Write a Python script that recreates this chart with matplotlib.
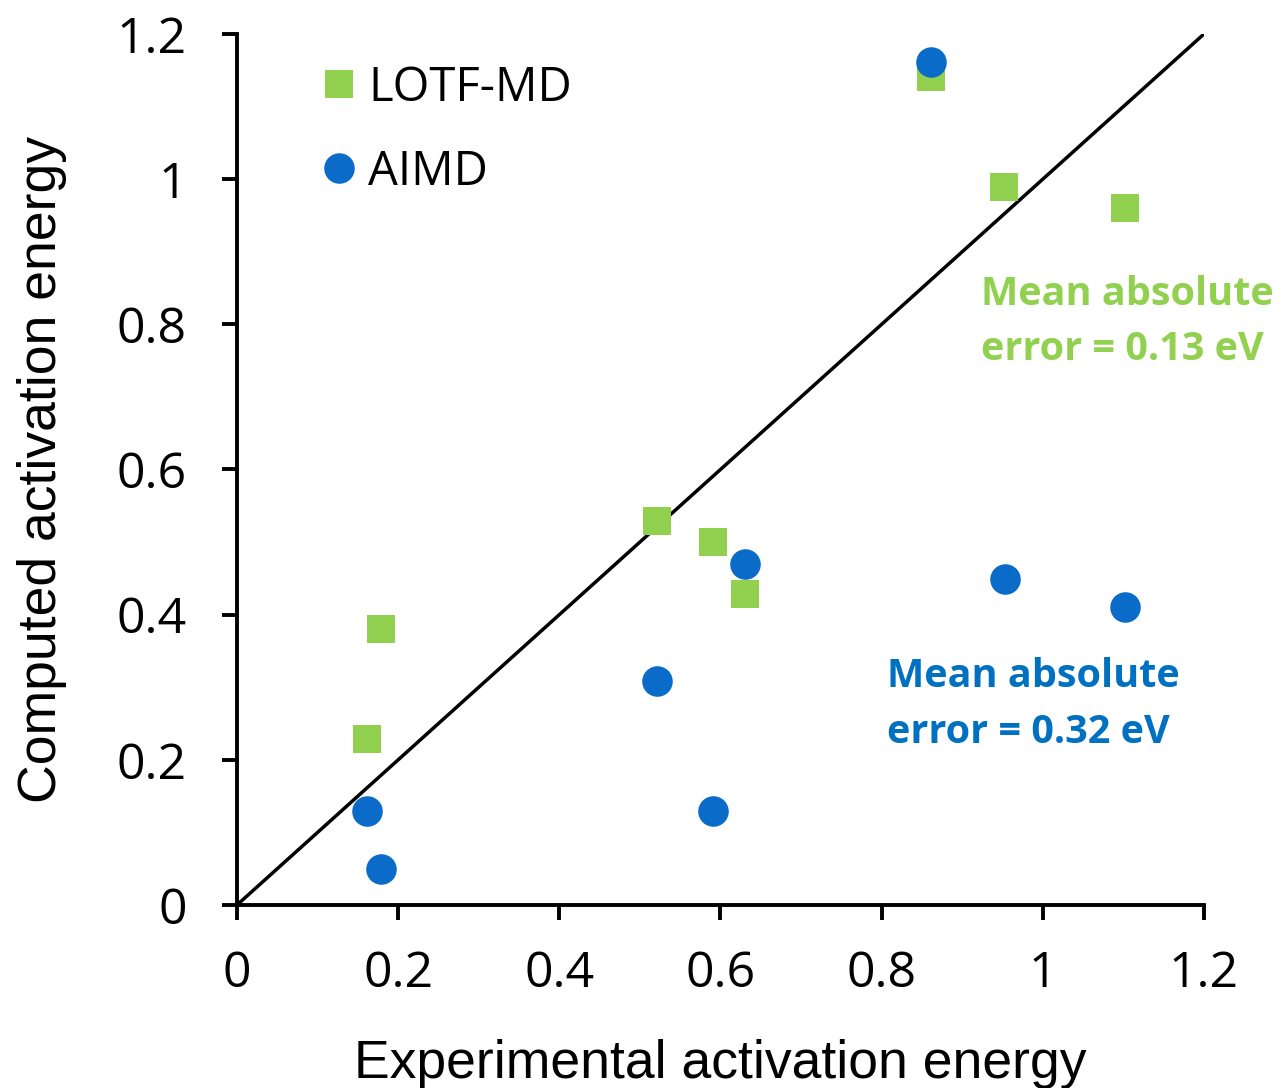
import matplotlib
matplotlib.use("Agg")
import matplotlib.pyplot as plt

# --- dados ---
lotf_x = [0.861, 0.952, 1.102, 0.521, 0.591, 0.630, 0.179, 0.161]
lotf_y = [1.141, 0.989, 0.960, 0.529, 0.500, 0.428, 0.380, 0.229]
aimd_x = [0.861, 0.953, 1.102, 0.630, 0.521, 0.591, 0.161, 0.179]
aimd_y = [1.161, 0.449, 0.411, 0.470, 0.309, 0.130, 0.130, 0.050]
ticks = [0, 0.2, 0.4, 0.6, 0.8, 1, 1.2]
tick_labels = ["0", "0.2", "0.4", "0.6", "0.8", "1", "1.2"]

verde = "#92D050"
azul = "#0A6CC8"
azul_txt = "#0070C0"

fig = plt.figure(figsize=(12.81, 10.88), dpi=100)
ax = fig.add_axes([0.185, 0.1682, 0.7549, 0.8006])

ax.plot([0, 1.2], [0, 1.2], color="black", lw=2.5, zorder=1)
ax.plot(lotf_x, lotf_y, "s", color=verde, ms=20, mew=0, label="LOTF-MD", zorder=2)
ax.plot(aimd_x, aimd_y, "o", color=azul, ms=22, mew=0, label="AIMD", zorder=3)

ax.set_xlim(0, 1.2)
ax.set_ylim(0, 1.2)
ax.set_xticks(ticks)
ax.set_xticklabels(tick_labels)
ax.set_yticks(ticks)
ax.set_yticklabels(tick_labels)
for s in ["top", "right"]:
    ax.spines[s].set_visible(False)
for s in ["left", "bottom"]:
    ax.spines[s].set_linewidth(2.8)
ax.tick_params(direction="out", length=11, width=2.8, labelsize=36)
ax.tick_params(axis="x", pad=21)
ax.tick_params(axis="y", pad=25)
for lab in ax.get_xticklabels() + ax.get_yticklabels():
    lab.set_fontfamily("Open Sans")

ax.set_xlabel("Experimental activation energy", fontsize=38.5,
              fontfamily="Liberation Sans", labelpad=29)
ax.set_ylabel("Computed activation energy", fontsize=38.5,
              fontfamily="Liberation Sans", labelpad=36)

leg = ax.legend(loc="upper left", bbox_to_anchor=(0.071, 0.987), frameon=False,
                handlelength=0.6, handletextpad=0.32, labelspacing=0.78,
                prop={"family": "Open Sans", "size": 34}, borderaxespad=0)

# textos de erro médio, uma linha por vez
ax.text(0.923, 0.827, "Mean absolute", color=verde, fontsize=28.5,
        fontweight="bold", fontfamily="Open Sans", ha="left", va="baseline",
        clip_on=False)
ax.text(0.923, 0.751, "error = 0.13 eV", color=verde, fontsize=28.5,
        fontweight="bold", fontfamily="Open Sans", ha="left", va="baseline",
        clip_on=False)
ax.text(0.807, 0.300, "Mean absolute", color=azul_txt, fontsize=28.5,
        fontweight="bold", fontfamily="Open Sans", ha="left", va="baseline",
        clip_on=False)
ax.text(0.807, 0.223, "error = 0.32 eV", color=azul_txt, fontsize=28.5,
        fontweight="bold", fontfamily="Open Sans", ha="left", va="baseline",
        clip_on=False)

fig.savefig("out.png", dpi=100)
